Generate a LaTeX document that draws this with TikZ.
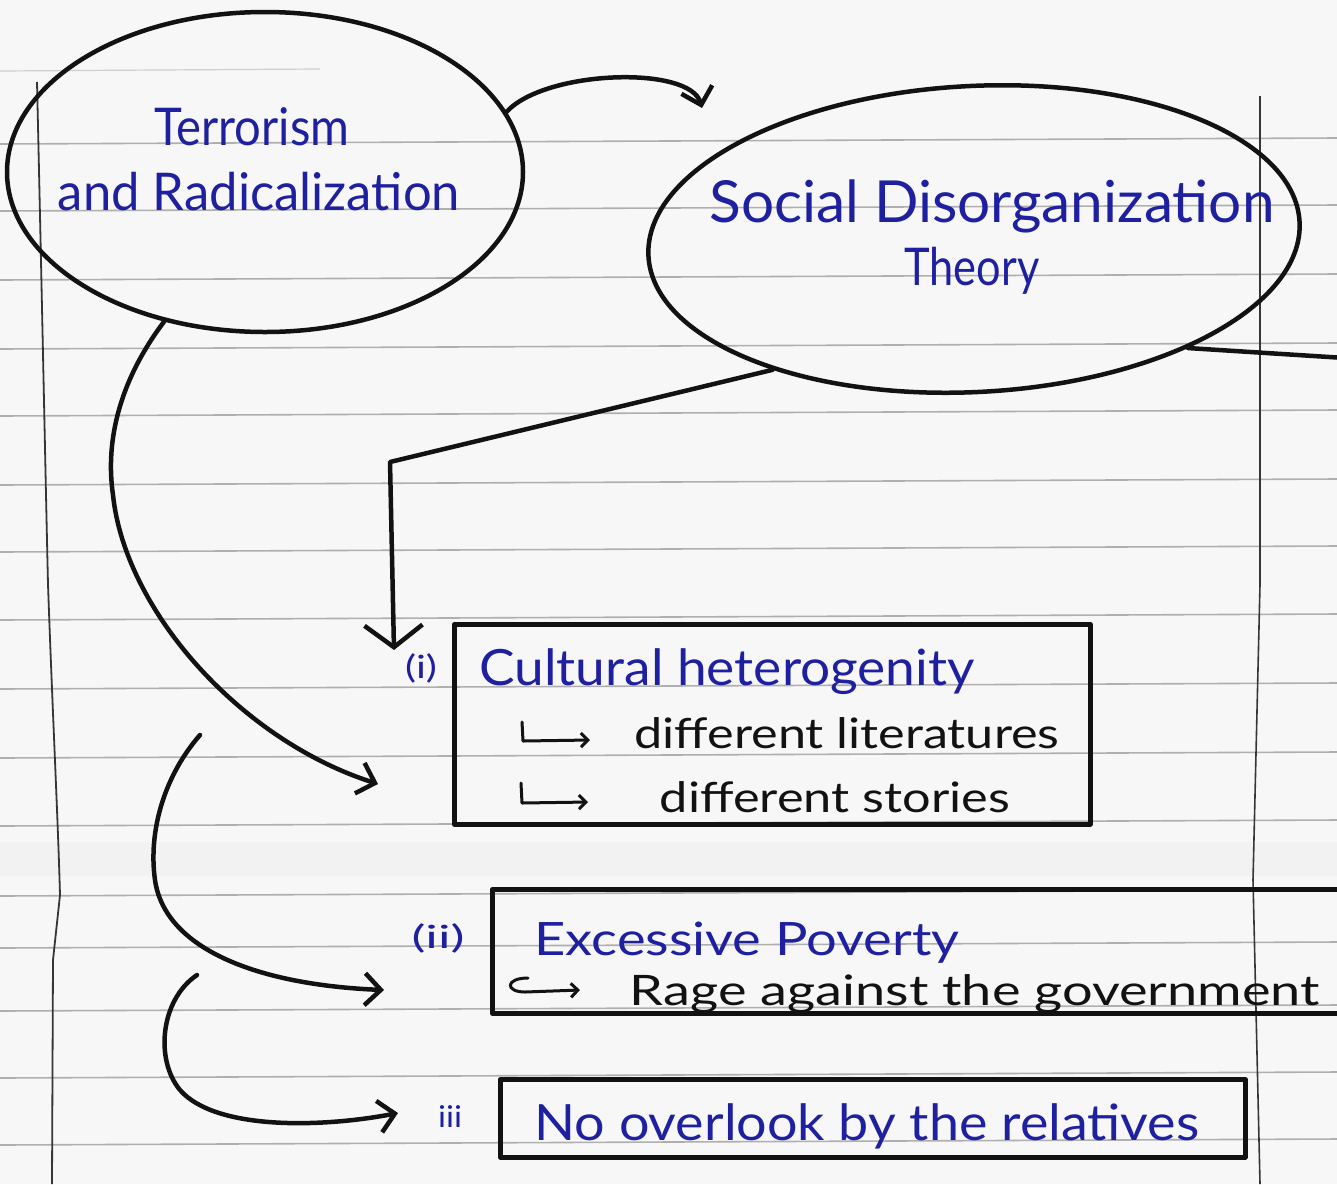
\documentclass[tikz,border=0pt]{standalone}
\usepackage{fontspec}
\setmainfont{Lato}
\usetikzlibrary{arrows.meta,shapes.geometric}
\definecolor{inkblue}{RGB}{30,32,160}
\definecolor{ink}{RGB}{18,18,18}
\definecolor{ruleline}{RGB}{175,175,175}
\definecolor{paper}{RGB}{247,247,247}
\newcommand\fitw[2]{\resizebox{#1}{\height}{#2}}
\begin{document}
\begin{tikzpicture}[x=1pt,y=-1pt,
  inkline/.style={draw=ink,line width=4.5pt,line cap=round,line join=round},
  conn/.style={inkline,-{Straight Barb[length=16pt,width=32pt]}},
  bigconn/.style={inkline,-{Straight Barb[length=22pt,width=58pt]}},
  bubble/.style={ellipse,inkline,inner sep=0pt},
  boxnode/.style={rectangle,inkline,inner sep=0pt,anchor=north west},
  bluetxt/.style={text=inkblue,inner sep=0pt,anchor=base},
  blacktxt/.style={text=ink,inner sep=0pt,anchor=base},
  hook/.style={draw=ink,line width=3pt,line cap=round,line join=round,-{Straight Barb[length=7pt,width=14pt]}},
]
\useasboundingbox (0,0) rectangle (1337,1184);
\clip (0,0) rectangle (1337,1184);
\fill[paper] (0,0) rectangle (1337,1184);
\fill[gray!10] (0,842) rectangle (1337,876);
% ruled lines
\foreach \yy in {144,211,280,349,416,485,552,620,689,758,826,896,948,1011,1078,1145}
  \draw[ruleline,line width=1.6pt] (0,\yy) -- (1337,\yy-6);
\draw[ruleline!60,line width=1.2pt] (0,71) -- (320,69);
% margins
\draw[ink!85,line width=1.8pt] (37,82) .. controls (42,300) and (46,500) .. (48,584) .. controls (52,700) and (58,820) .. (60,895) -- (53,960) -- (52,1184);
\draw[ink!85,line width=1.6pt] (1260,96) -- (1260,584) -- (1253,880) -- (1260,1184);

% bubbles
\node[bubble,minimum width=516pt,minimum height=320pt] (e1) at (265,172) {};
\node[bubble,minimum width=652pt,minimum height=306pt,rotate=3] (e2) at (974,239) {};
\node[bluetxt,font=\fontsize{52}{56}\selectfont] (t1) at (252,145) {\fitw{195pt}{Terrorism}};
\node[bluetxt,font=\fontsize{52}{56}\selectfont] (t2) at (259,210) {\fitw{402pt}{and Radicalization}};
\node[bluetxt,font=\fontsize{58}{62}\selectfont] (t3) at (992,222) {\fitw{565pt}{Social Disorganization}};
\node[bluetxt,font=\fontsize{52}{56}\selectfont] (t4) at (972,285) {\fitw{135pt}{Theory}};

% boxes
\node[boxnode,minimum width=636pt,minimum height=200pt] (b1) at (452,622) {};
\node[boxnode,minimum width=870pt,minimum height=124pt] (b2) at (490,887) {};
\node[boxnode,minimum width=745pt,minimum height=78pt] (b3) at (498,1077) {};

\node[bluetxt,font=\fontsize{32}{36}\selectfont] (n1) at (421,678) {\fitw{32pt}{(i)}};
\node[bluetxt,font=\fontsize{50}{54}\selectfont] (c1) at (727,685) {\fitw{495pt}{Cultural heterogenity}};
\node[blacktxt,font=\fontsize{42}{46}\selectfont] (c2) at (847,748) {\fitw{425pt}{different literatures}};
\node[blacktxt,font=\fontsize{42}{46}\selectfont] (c3) at (835,812) {\fitw{350pt}{different stories}};
\draw[hook] (522,722) -- (523,741) -- (590,740);
\draw[hook] (521,783) -- (522,803) -- (588,802);

\node[bluetxt,font=\fontsize{32}{36}\selectfont] (n2) at (438,948) {\fitw{53pt}{(ii)}};
\node[bluetxt,font=\fontsize{46}{50}\selectfont] (p1) at (747,955) {\fitw{425pt}{Excessive Poverty}};
\node[blacktxt,font=\fontsize{42}{46}\selectfont] (p2) at (975,1005) {\fitw{690pt}{Rage against the government}};
\draw[hook] (528,978) .. controls (505,978) and (505,992) .. (525,992) -- (580,990);

\node[bluetxt,font=\fontsize{30}{34}\selectfont] (n3) at (450,1127) {\fitw{24pt}{iii}};
\node[bluetxt,font=\fontsize{50}{54}\selectfont] (r1) at (867,1140) {\fitw{665pt}{No overlook by the relatives}};

% connectors
\coordinate (a1) at (702,108);
\draw[conn] (e1.14) .. controls (545,70) and (690,65) .. (a1);
\coordinate (a2) at (394,650);
\draw[bigconn] (e2.210) -- (390,462) -- (a2);
\coordinate (a3) at (1345,358);
\draw[inkline] (e2.-30) -- (a3);
\coordinate (a4) at (378,784);
\draw[conn] (e1.236) .. controls (120,380) and (105,440) .. (113,495) .. controls (125,610) and (240,740) .. (a4);
\coordinate (s2) at (200,735);
\coordinate (a5) at (384,990);
\draw[conn] (s2) .. controls (165,775) and (148,830) .. (155,880) .. controls (165,950) and (260,985) .. (a5);
\coordinate (s3) at (197,975);
\coordinate (a6) at (398,1113);
\draw[conn] (s3) .. controls (160,1000) and (155,1060) .. (180,1090) .. controls (215,1130) and (320,1128) .. (a6);
\end{tikzpicture}
\end{document}
